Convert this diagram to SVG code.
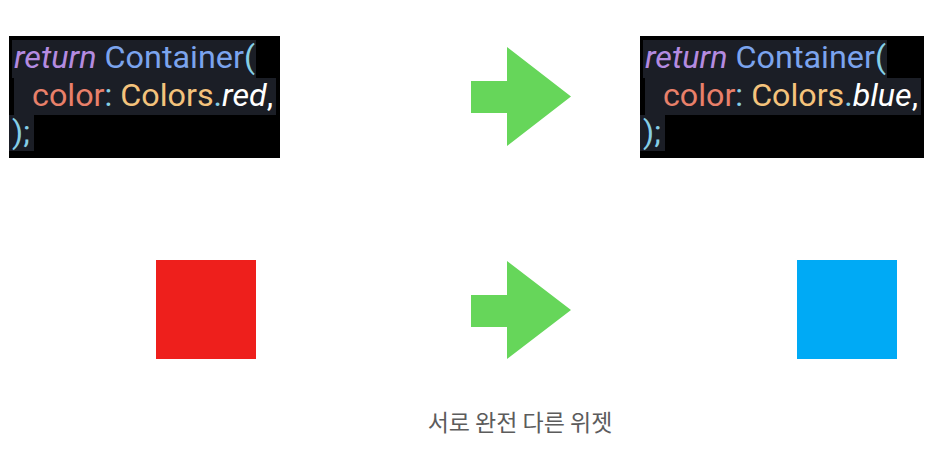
<svg xmlns="http://www.w3.org/2000/svg" width="937" height="451" viewBox="0 0 937 451">
<style>
.code{font-family:Roboto,"Liberation Sans",Arial,sans-serif;font-size:32px;font-weight:400}
.kw{fill:#b48be0;font-style:italic}
.cls{fill:#7ba4ee}
.pn{fill:#86cfe6}
.prop{fill:#e8806a}
.obj{fill:#f4c37c}
.val{fill:#ffffff;font-style:italic}
.hl{fill:#1b1e26}
.arrow{fill:#66d65a}
.cap{font-family:"Noto Sans CJK KR","Noto Sans",sans-serif;font-size:23px;fill:#5c5c5c}
</style>
<g id="code-red">
<rect x="9" y="36" width="271" height="122" fill="#000"/>
<rect class="hl" x="12" y="40" width="244" height="38"/>
<rect class="hl" x="14" y="78" width="262" height="37"/>
<rect class="hl" x="9" y="115" width="25" height="36"/>
<text class="code" x="14" y="68" textLength="241" lengthAdjust="spacingAndGlyphs"><tspan class="kw">return</tspan> <tspan class="cls">Container</tspan><tspan class="pn">(</tspan></text>
<text class="code" x="32" y="106" textLength="241" lengthAdjust="spacingAndGlyphs"><tspan class="prop">color</tspan><tspan class="pn">:</tspan> <tspan class="obj">Colors</tspan><tspan class="pn">.</tspan><tspan class="val">red</tspan><tspan fill="#fff">,</tspan></text>
<text class="code pn" x="12" y="143">);</text>
</g>
<g id="code-blue">
<rect x="640" y="36" width="284" height="122" fill="#000"/>
<rect class="hl" x="643" y="40" width="244" height="38"/>
<rect class="hl" x="645" y="78" width="276" height="37"/>
<rect class="hl" x="640" y="115" width="25" height="36"/>
<text class="code" x="645" y="68" textLength="241" lengthAdjust="spacingAndGlyphs"><tspan class="kw">return</tspan> <tspan class="cls">Container</tspan><tspan class="pn">(</tspan></text>
<text class="code" x="663" y="106" textLength="255" lengthAdjust="spacingAndGlyphs"><tspan class="prop">color</tspan><tspan class="pn">:</tspan> <tspan class="obj">Colors</tspan><tspan class="pn">.</tspan><tspan class="val">blue</tspan><tspan fill="#fff">,</tspan></text>
<text class="code pn" x="643" y="143">);</text>
</g>
<g id="connectors">
<path class="arrow" d="M471,81 H507 V47 L571,96.5 L507,146 V113 H471 Z"/>
<path class="arrow" d="M471,295 H507 V261 L571,310 L507,359 V327 H471 Z"/>
</g>
<g id="red-box"><rect x="156" y="260" width="100" height="99" fill="#ee1f1c"/></g>
<g id="blue-box"><rect x="797" y="260" width="100" height="99" fill="#00aaf5"/></g>
<g id="caption"><text class="cap" x="520" y="431" text-anchor="middle">서로 완전 다른 위젯</text></g>
</svg>
